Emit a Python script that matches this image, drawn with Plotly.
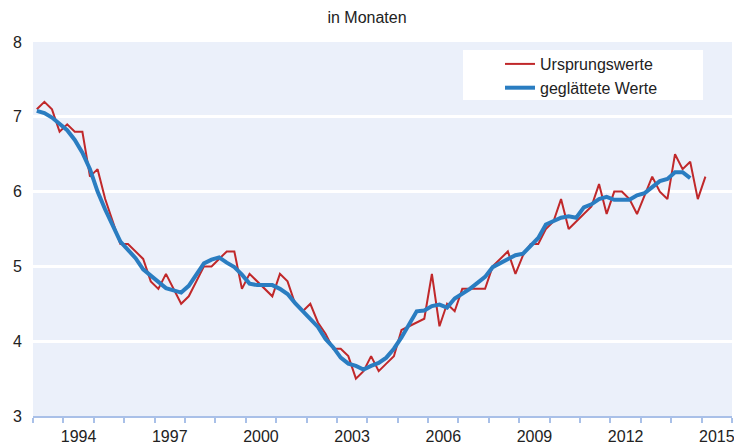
import plotly.graph_objects as go

years = list(range(1993, 2016))
raw_values = [
    7.1, 7.2, 7.1, 6.8,
    6.9, 6.8, 6.8, 6.2,
    6.3, 5.9, 5.6, 5.3,
    5.3, 5.2, 5.1, 4.8,
    4.7, 4.9, 4.7, 4.5,
    4.6, 4.8, 5.0, 5.0,
    5.1, 5.2, 5.2, 4.7,
    4.9, 4.8, 4.7, 4.6,
    4.9, 4.8, 4.5, 4.4,
    4.5, 4.25, 4.1, 3.9,
    3.9, 3.8, 3.5, 3.6,
    3.8, 3.6, 3.7, 3.8,
    4.15, 4.2, 4.25, 4.3,
    4.9, 4.2, 4.5, 4.4,
    4.7, 4.7, 4.7, 4.7,
    5.0, 5.1, 5.2, 4.9,
    5.15, 5.3, 5.3, 5.5,
    5.6, 5.9, 5.5, 5.6,
    5.7, 5.8, 6.1, 5.7,
    6.0, 6.0, 5.9, 5.7,
    5.95, 6.2, 6.0, 5.9,
    6.5, 6.3, 6.4, 5.9,
    6.2,
]
smooth_values = [
    7.08, 7.05, 6.99, 6.9,
    6.82, 6.69, 6.52, 6.3,
    6.0, 5.76, 5.53, 5.33,
    5.22, 5.11, 4.96, 4.88,
    4.79, 4.71, 4.68, 4.65,
    4.74, 4.89, 5.04, 5.09,
    5.12, 5.05, 4.99, 4.89,
    4.77, 4.75, 4.75, 4.75,
    4.7, 4.63, 4.51, 4.4,
    4.3, 4.19, 4.03, 3.92,
    3.78, 3.7, 3.67, 3.62,
    3.67, 3.71, 3.78, 3.9,
    4.05, 4.22, 4.4, 4.41,
    4.47, 4.49, 4.45, 4.57,
    4.63, 4.7, 4.78, 4.86,
    4.99, 5.04, 5.1, 5.15,
    5.17, 5.28, 5.38, 5.56,
    5.61, 5.65, 5.67, 5.65,
    5.79, 5.83, 5.9, 5.93,
    5.89, 5.89, 5.89, 5.95,
    5.98, 6.06, 6.14, 6.17,
    6.26, 6.26, 6.18,
]
tick_labels = ["1994", "1997", "2000", "2003", "2006", "2009", "2012", "2015"]
y_ticks = [3, 4, 5, 6, 7, 8]

start_year = 1993
x_raw = [start_year + (i // 4) + ((i % 4) + 0.5) / 4 for i in range(len(raw_values))]
x_smooth = [start_year + (i // 4) + ((i % 4) + 0.5) / 4 for i in range(len(smooth_values))]

FONT = "Liberation Sans, Arial, sans-serif"
W, H = 734, 445
ml, mr, mt, mb = 33, 2, 42, 29

fig = go.Figure()
fig.add_trace(go.Scatter(x=x_raw, y=raw_values, mode="lines", name="Ursprungswerte",
                         line=dict(color="#C0282A", width=2)))
fig.add_trace(go.Scatter(x=x_smooth, y=smooth_values, mode="lines", name="geglättete Werte",
                         line=dict(color="#2A7DC1", width=4)))

pw = W - ml - mr
ph = H - mt - mb
def px2paper_x(px):
    return (px - ml) / pw
def px2paper_y(py):
    return 1 - (py - mt) / ph

fig.add_shape(type="rect", xref="paper", yref="paper",
              x0=px2paper_x(463), x1=px2paper_x(703),
              y0=px2paper_y(100), y1=px2paper_y(50),
              fillcolor="white", line=dict(width=0), layer="below")

fig.update_layout(
    width=W, height=H,
    margin=dict(l=ml, r=mr, t=mt, b=mb),
    paper_bgcolor="white",
    plot_bgcolor="#EBF0FA",
    font=dict(family=FONT, size=16, color="#222222"),
    title=dict(text="in Monaten", x=0.5, xref="container", xanchor="center",
               y=0.962, yref="container", yanchor="middle",
               font=dict(family=FONT, size=16, color="#222222")),
    showlegend=True,
    legend=dict(x=px2paper_x(500), y=px2paper_y(47), xanchor="left", yanchor="top",
                bgcolor="rgba(0,0,0,0)", borderwidth=0,
                font=dict(family=FONT, size=16, color="#222222"),
                tracegroupgap=0, itemwidth=30),
    xaxis=dict(
        range=[1993, 2016],
        automargin=False,
        tickmode="array",
        tickvals=[int(t) + 0.5 for t in tick_labels],
        ticktext=tick_labels,
        ticks="", ticklen=0,
        ticklabelstandoff=5,
        ticklabeloverflow="allow",
        showgrid=False, zeroline=False,
        showline=True, linecolor="#A9C0E8", linewidth=1.5,
        minor=dict(tick0=1993, dtick=1, ticks="outside", ticklen=5,
                   tickcolor="#A9C0E8", tickwidth=1.5, showgrid=False),
        tickfont=dict(family=FONT, size=16, color="#222222"),
    ),
    yaxis=dict(
        range=[3, 8],
        automargin=False,
        tickmode="array", tickvals=y_ticks,
        ticks="", showline=False, zeroline=False,
        showgrid=True, gridcolor="white", gridwidth=2.5,
        ticklabelstandoff=10,
        tickfont=dict(family=FONT, size=16, color="#222222"),
    ),
)

fig.write_html("out.html", config={"displayModeBar": False},
               post_script="document.body.style.margin='0';")
